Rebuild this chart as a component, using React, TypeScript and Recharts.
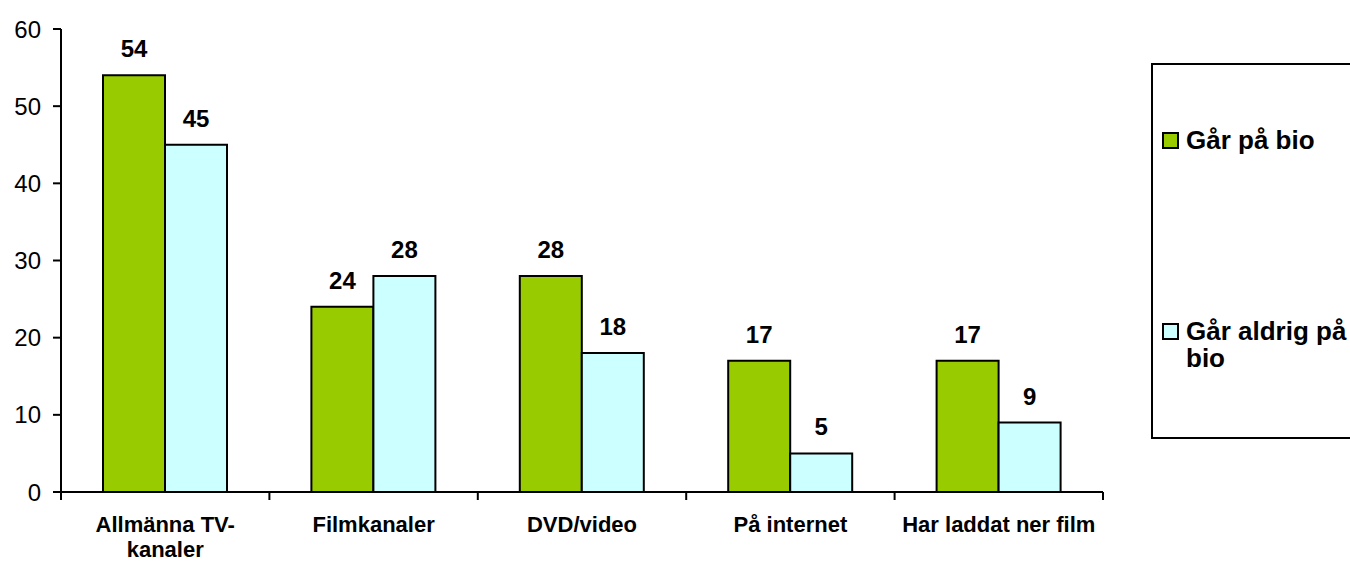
import React from 'react';
import { BarChart, Bar, XAxis, YAxis, LabelList } from 'recharts';

const categories = ['Allmänna TV-kanaler', 'Filmkanaler', 'DVD/video', 'På internet', 'Har laddat ner film'];
const goesToCinema = [54, 24, 28, 17, 17];
const neverGoes = [45, 28, 18, 5, 9];
const yTicks = [0, 10, 20, 30, 40, 50, 60];

const seriesNames = ['Går på bio', 'Går aldrig på bio'];
const seriesColors = ['#99cc00', '#ccffff'];

const data = categories.map((name, i) => ({
    name,
    bio: goesToCinema[i],
    aldrig: neverGoes[i],
}));

const FONT = '"Liberation Sans", Arial, sans-serif';
const WIDTH = 1350;
const HEIGHT = 563;
const PLOT_LEFT = 61;
const PLOT_RIGHT = 1103;
const PLOT_TOP = 29;
const PLOT_BOTTOM = 492;
const BAND = (PLOT_RIGHT - PLOT_LEFT) / categories.length;

// category label, plus the tick marks at the category boundaries
function CategoryTick(props: any) {
    const { x, y, payload, index } = props;
    const lines: string[] = String(payload.value).split(/(?<=-)/);
    const left = x - BAND / 2;
    return (
        <g>
            <line x1={left} y1={y - 8} x2={left} y2={y} stroke="#000" strokeWidth={2} />
            {index === categories.length - 1 && (
                <line x1={left + BAND} y1={y - 8} x2={left + BAND} y2={y} stroke="#000" strokeWidth={2} />
            )}
            <text x={x} y={y + 32} textAnchor="middle" fontFamily={FONT} fontWeight="bold" fontSize={22} fill="#000">
                {lines.map((l, i) => (
                    <tspan key={i} x={x} dy={i === 0 ? 0 : 25}>{l}</tspan>
                ))}
            </text>
        </g>
    );
}

function LegendBox() {
    return (
        <div
            style={{
                position: 'absolute', left: 1151, top: 63, width: 230, height: 376,
                border: '2px solid #000', boxSizing: 'border-box', background: '#fff',
                fontFamily: FONT, fontWeight: 'bold', fontSize: 26, color: '#000',
            }}
        >
            {seriesNames.map((n, i) => (
                <div key={n} style={{ position: 'absolute', left: 9, top: i === 0 ? 62 : 253, display: 'flex', alignItems: 'flex-start' }}>
                    <span style={{ display: 'inline-block', width: 13, height: 13, background: seriesColors[i], border: '2px solid #000', marginTop: 5, marginRight: 7, flex: 'none' }} />
                    <span style={{ width: 170, lineHeight: '27px' }}>{n}</span>
                </div>
            ))}
        </div>
    );
}

export default function App() {
    return (
        <div style={{ position: 'absolute', left: 0, top: 0, width: WIDTH, height: HEIGHT, background: '#fff', overflow: 'hidden' }}>
            <BarChart
                width={WIDTH}
                height={HEIGHT}
                data={data}
                margin={{ top: PLOT_TOP, right: WIDTH - PLOT_RIGHT, bottom: 0, left: 0 }}
                barGap={0}
            >
                <XAxis
                    dataKey="name"
                    tick={<CategoryTick />}
                    tickLine={false}
                    axisLine={{ stroke: '#000', strokeWidth: 2 }}
                    interval={0}
                    height={HEIGHT - PLOT_BOTTOM}
                />
                <YAxis
                    domain={[0, 60]}
                    ticks={yTicks}
                    width={PLOT_LEFT}
                    tickSize={8}
                    tickMargin={12}
                    axisLine={{ stroke: '#000', strokeWidth: 2 }}
                    tickLine={{ stroke: '#000', strokeWidth: 2 }}
                    tick={{ fontFamily: FONT, fontSize: 24, fill: '#000' }}
                />
                <Bar dataKey="bio" name={seriesNames[0]} fill={seriesColors[0]} stroke="#000" strokeWidth={2} barSize={62} isAnimationActive={false}>
                    <LabelList dataKey="bio" position="top" offset={18} style={{ fontFamily: FONT, fontWeight: 'bold', fontSize: 24, fill: '#000' }} />
                </Bar>
                <Bar dataKey="aldrig" name={seriesNames[1]} fill={seriesColors[1]} stroke="#000" strokeWidth={2} barSize={62} isAnimationActive={false}>
                    <LabelList dataKey="aldrig" position="top" offset={18} style={{ fontFamily: FONT, fontWeight: 'bold', fontSize: 24, fill: '#000' }} />
                </Bar>
            </BarChart>
            <LegendBox />
        </div>
    );
}
